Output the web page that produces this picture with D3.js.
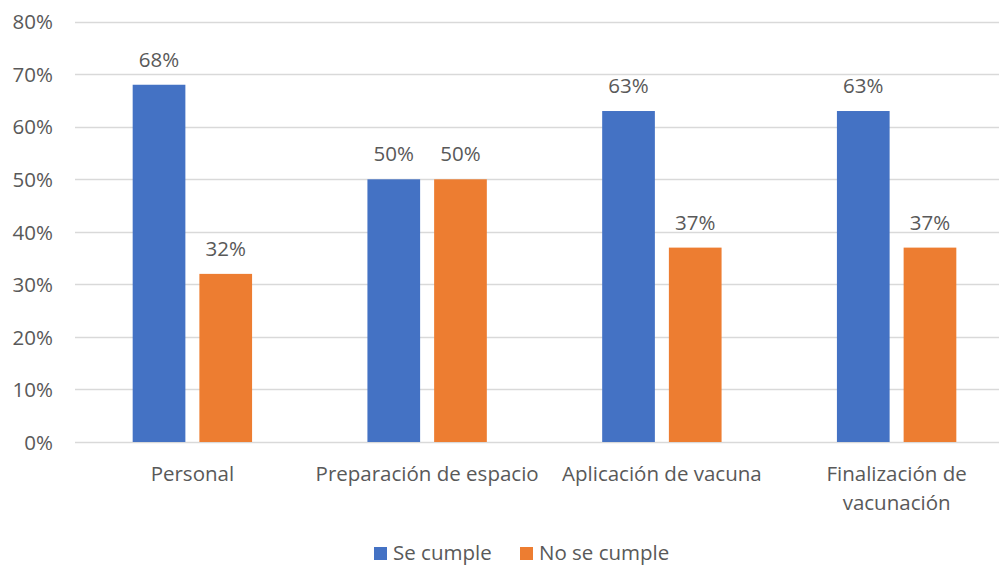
<!DOCTYPE html>
<html><head><meta charset="utf-8">
<script src="https://cdn.jsdelivr.net/npm/d3@7"></script>
<style>body{margin:0;background:#fff}svg{display:block}text{font-family:"Open Sans",sans-serif;fill:#595959}</style>
</head><body><svg id="c" width="999" height="567"></svg>
<script>
const categories = [["Personal"], ["Preparación de espacio"], ["Aplicación de vacuna"], ["Finalización de", "vacunación"]];
const series = ["Se cumple", "No se cumple"];
const seCumple = [68, 50, 63, 63];
const noSeCumple = [32, 50, 37, 37];
const yTicks = [0, 10, 20, 30, 40, 50, 60, 70, 80];
const colors = ["#4472C4", "#ED7D31"];
const FS = "20.5px";

const svg = d3.select("#c");
const catKeys = categories.map(c => c.join(" "));
const x0 = d3.scaleBand().domain(catKeys).range([75, 1014]).padding(0);
const x1 = d3.scaleBand().domain(series).range([-59.7, 59.7]).paddingInner(0.21).paddingOuter(0);
const y = d3.scaleLinear().domain([0, 80]).range([442, 21.7]);
const color = d3.scaleOrdinal().domain(series).range(colors);

// gridlines
svg.append("g").selectAll("line").data(yTicks).join("line")
  .attr("x1", 75).attr("x2", 999)
  .attr("y1", d => Math.round(y(d)) + 0.5).attr("y2", d => Math.round(y(d)) + 0.5)
  .attr("stroke", "#D9D9D9").attr("stroke-width", 1.3);

// y axis labels
const yAxis = d3.axisLeft(y).tickValues(yTicks).tickFormat(d => d + "%").tickSize(0).tickPadding(0);
const ga = svg.append("g").attr("transform", "translate(53,0)").call(yAxis);
ga.select(".domain").remove();
ga.selectAll("text").style("font-size", FS).style("font-family", "'Open Sans',sans-serif").attr("fill", "#595959").attr("dy", "0.35em");

const data = catKeys.map((k, i) => ({ key: k, vals: [seCumple[i], noSeCumple[i]] }));
const groups = svg.append("g").selectAll("g").data(data).join("g")
  .attr("transform", d => `translate(${x0(d.key) + x0.bandwidth() / 2},0)`);

groups.selectAll("rect").data(d => d.vals.map((v, j) => ({ s: series[j], v }))).join("rect")
  .attr("x", d => x1(d.s)).attr("width", x1.bandwidth())
  .attr("y", d => y(d.v)).attr("height", d => y(0) - y(d.v))
  .attr("fill", d => color(d.s));

groups.selectAll("text.val").data(d => d.vals.map((v, j) => ({ s: series[j], v }))).join("text")
  .attr("class", "val")
  .attr("x", d => x1(d.s) + x1.bandwidth() / 2).attr("y", d => y(d.v) - 18)
  .attr("text-anchor", "middle").style("font-size", FS)
  .text(d => d.v + "%");

// category labels
svg.append("g").selectAll("text").data(categories).join("text")
  .attr("x", (d, i) => x0(catKeys[i]) + x0.bandwidth() / 2)
  .attr("y", 481).attr("text-anchor", "middle").style("font-size", FS)
  .each(function (d) {
    const t = d3.select(this);
    d.forEach((line, i) => t.append("tspan").attr("x", t.attr("x")).attr("dy", i === 0 ? 0 : 29).text(line));
  });

// legend
const legendPos = [374, 520];
const lg = svg.append("g").selectAll("g").data(series).join("g")
  .attr("transform", (d, i) => `translate(${legendPos[i]},0)`);
lg.append("rect").attr("x", 0).attr("y", 547).attr("width", 13).attr("height", 13).attr("fill", d => color(d));
lg.append("text").attr("x", 19).attr("y", 560).style("font-size", FS).text(d => d);
</script></body></html>
